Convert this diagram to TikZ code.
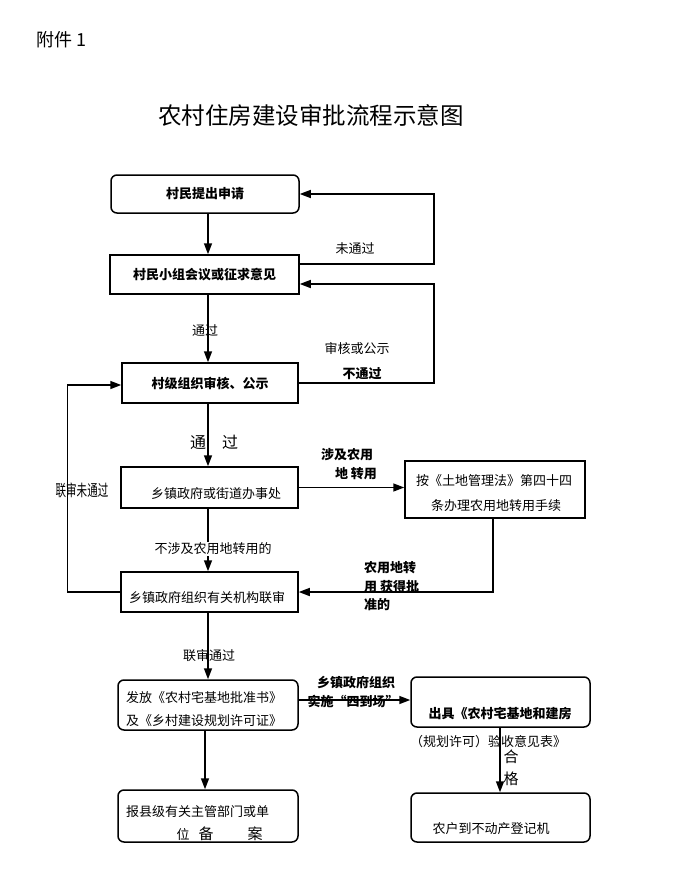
\documentclass[tikz,border=0pt]{standalone}
\usepackage{fontspec}
\setmainfont{Noto Sans CJK SC}
\usetikzlibrary{arrows.meta}

\tikzset{
  flowbox/.style={draw, line width=1.5pt, inner sep=2pt, font=\fontsize{13}{15}\selectfont},
  roundbox/.style={flowbox, rounded corners=6pt},
  flowarrow/.style={line width=1.5pt, -{Triangle[length=11pt,width=8pt]}},
  note/.style={inner sep=0pt, font=\fontsize{13}{15}\selectfont},
}

\begin{document}
\begin{tikzpicture}[x=1pt, y=-1pt]
\useasboundingbox (0,0) rectangle (675,894);

% Heading
\node[note, font=\fontsize{18}{20}\selectfont, anchor=west] (annex) at (36,40) {附件 1};
\node[note, font=\fontsize{23.5}{26}\selectfont] (title) at (311,115) {农村住房建设审批流程示意图};

% Define nodes
\node[roundbox, minimum width=188, minimum height=38] (apply) at (205,194) {\textbf{村民提出申请}};
\node[flowbox, minimum width=189, minimum height=39] (meeting) at (204.5,274.5) {\textbf{村民小组会议或征求意见}};
\node[flowbox, minimum width=176, minimum height=40] (village) at (210,383) {\textbf{村级组织审核、公示}};
\node[flowbox, minimum width=177, minimum height=41] (town) at (209.5,487.5) {};
\node[flowbox, minimum width=180, minimum height=57] (landbox) at (495,489.5) {};
\node[flowbox, minimum width=177, minimum height=40] (joint) at (209.5,592) {};
\node[roundbox, minimum width=180, minimum height=50] (permit) at (208,705) {};
\node[roundbox, minimum width=180, minimum height=52] (filing) at (208,816) {};
\node[roundbox, minimum width=179, minimum height=50] (inspect) at (500.5,702) {};
\node[roundbox, minimum width=179, minimum height=49] (register) at (500.5,817.5) {};

% Box texts
\node[note] (towntxt) at (216,494) {乡镇政府或街道办事处};
\node[note] (landtxt1) at (494,481) {按《土地管理法》第四十四};
\node[note] (landtxt2) at (496,506) {条办理农用地转用手续};
\node[note] (jointtxt) at (207,598) {乡镇政府组织有关机构联审};
\node[note, anchor=west] (permittxt1) at (126,698) {发放《农村宅基地批准书》};
\node[note, anchor=west] (permittxt2) at (126,721) {及《乡村建设规划许可证》};
\node[note, anchor=west] (filingtxt1) at (126,812) {报县级有关主管部门或单};
\node[note] (filingtxt2) at (183,834) {位};
\node[note, font=\fontsize{15}{17}\selectfont] (filingtxt3) at (206,834) {备};
\node[note, font=\fontsize{15}{17}\selectfont] (filingtxt4) at (255,834) {案};
\node[note] (inspecttxt1) at (500,714) {\textbf{出具《农村宅基地和建房}};
\node[note] (inspecttxt2) at (488,742) {（规划许可）验收意见表》};
\node[note] (registertxt) at (491,829) {农户到不动产登记机};

% Arrows
\draw[flowarrow] ([xshift=3pt]apply.south) -- ([xshift=3pt]apply.south |- meeting.north);
\draw[flowarrow] ([xshift=3.5pt]meeting.south) -- ([xshift=3.5pt]meeting.south |- village.north);
\draw[flowarrow] ([xshift=-2pt]village.south) -- ([xshift=-2pt]village.south |- town.north);
\draw[flowarrow] ([xshift=-1.5pt]town.south) -- ([xshift=-1.5pt]town.south |- joint.north);
\draw[flowarrow] ([xshift=-1.5pt]joint.south) -- ([xshift=-1.5pt]joint.south |- permit.north);
\draw[flowarrow] ([xshift=-3pt]permit.south) -- ([xshift=-3pt]permit.south |- filing.north);
\draw[flowarrow] ([xshift=-0.5pt]inspect.south) -- ([xshift=-0.5pt]inspect.south |- register.north);
\draw[flowarrow] ([yshift=10.5pt]meeting.east) -- ++(134,0) |- (apply.east);
\draw[flowarrow] (village.east) -- ++(135,0) |- ([yshift=-9.5pt]meeting.east);
\draw[flowarrow] (town.east) -- (town.east -| landbox.west);
\draw[flowarrow] ([xshift=-2pt]landbox.south) |- (joint.east);
\draw[flowarrow] (joint.west) -- ++(-53,0) |- ([yshift=-2pt]village.west);
\draw[flowarrow] ([yshift=5pt]permit.east) -- ([yshift=5pt]permit.east -| inspect.west);

% Labels
\node[note] (notpass) at (355,249) {未通过};
\node[note] (pass1) at (205,331) {通过};
\node[note] (review1) at (357,349) {审核或公示};
\node[note] (review2) at (362,374) {\textbf{不通过}};
\node[note, font=\fontsize{16}{18}\selectfont] (pass2) at (214,442) {通\hspace{1em}过};
\node[note] (farm1) at (347,455) {\textbf{涉及农用}};
\node[note] (farm2) at (356,474) {\textbf{地 转用}};
\node[note, fill=white, inner sep=1pt] (nofarm) at (213,549) {不涉及农用地转用的};
\node[note, anchor=west] (approved1) at (364,568) {\textbf{农用地转}};
\node[note, anchor=west] (approved2) at (364,587) {\textbf{用 获得批}};
\node[note, anchor=west] (approved3) at (364,605) {\textbf{准的}};
\node[note, font=\fontsize{16}{18}\selectfont] (jointfail) at (82,490) {\scalebox{0.66}[1]{联审未通过}};
\node[note] (jointpass) at (209,656) {联审通过};
\node[note] (onsite1) at (356,683) {\textbf{乡镇政府组织}};
\node[note] (onsite2) at (353,701) {\textbf{实施“四到场”}};
\node[note, font=\fontsize{15}{17}\selectfont] (ok1) at (511,757) {合};
\node[note, font=\fontsize{15}{17}\selectfont] (ok2) at (511,779) {格};
\end{tikzpicture}
\end{document}
